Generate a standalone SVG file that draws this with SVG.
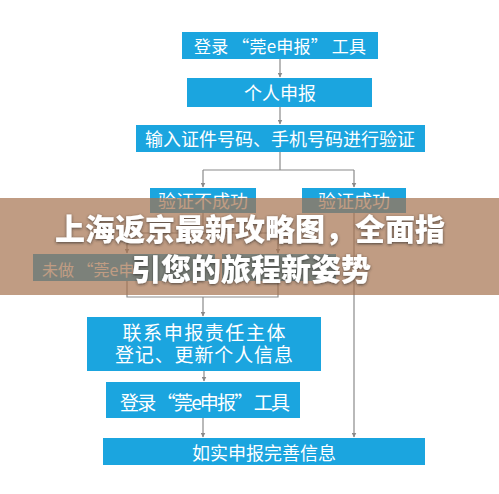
<svg xmlns="http://www.w3.org/2000/svg" width="499" height="494" viewBox="0 0 499 494">
<defs>
<style>
.box{fill:#1ba5df;}
.t{fill:#ffffff;font-family:"Noto Sans CJK SC","Noto Sans",sans-serif;text-anchor:middle;}
.ln{fill:none;stroke:#8a8a8a;stroke-width:1.2;}
.title{fill:#ffffff;font-family:"Noto Sans CJK SC","Noto Sans",sans-serif;font-weight:900;font-size:30px;text-anchor:middle;}
</style>
<marker id="ah" viewBox="0 0 10 10" refX="9" refY="5" markerWidth="5" markerHeight="5" orient="auto" markerUnits="userSpaceOnUse">
<path d="M0,0 L10,5 L0,10 z" fill="#8a8a8a"/>
</marker>
<filter id="sh" x="-10%" y="-30%" width="120%" height="160%">
<feDropShadow dx="0" dy="1" stdDeviation="1.6" flood-color="#2a2a2a" flood-opacity="0.75"/>
</filter>
</defs>
<rect width="499" height="494" fill="#ffffff"/>
<g id="connectors">
<path class="ln" d="M280,59 V77" marker-end="url(#ah)"/>
<path class="ln" d="M280,107 V124" marker-end="url(#ah)"/>
<path class="ln" d="M280,152 V170"/>
<path class="ln" d="M203,170 H354"/>
<path class="ln" d="M203,170 V187" marker-end="url(#ah)"/>
<path class="ln" d="M354,170 V187" marker-end="url(#ah)"/>
<path class="ln" d="M203,213 V233"/>
<path class="ln" d="M127,233 H278"/>
<path class="ln" d="M127,233 V253" marker-end="url(#ah)"/>
<path class="ln" d="M278,233 V253" marker-end="url(#ah)"/>
<path class="ln" d="M127,281 V297 H278 V281"/>
<path class="ln" d="M203,297 V316" marker-end="url(#ah)"/>
<path class="ln" d="M354,213 V437" marker-end="url(#ah)"/>
<path class="ln" d="M204,371 V381" marker-end="url(#ah)"/>
<path class="ln" d="M203,418 V437" marker-end="url(#ah)"/>
</g>
<g id="n1"><rect class="box" x="182" y="32" width="196" height="27"/><text class="t" x="280" y="53" font-size="17" textLength="172" lengthAdjust="spacing">登录 “莞e申报” 工具</text></g>
<g id="n2"><rect class="box" x="187" y="78" width="185" height="29"/><text class="t" x="280" y="100" font-size="18">个人申报</text></g>
<g id="n3"><rect class="box" x="136" y="125" width="289" height="27"/><text class="t" x="280" y="146" font-size="18">输入证件号码、手机号码进行验证</text></g>
<g id="n4"><rect class="box" x="150" y="188" width="106" height="25"/><text class="t" x="203" y="208" font-size="18">验证不成功</text></g>
<g id="n5"><rect class="box" x="302" y="188" width="104" height="25"/><text class="t" x="354" y="208" font-size="18">验证成功</text></g>
<g id="n6"><rect class="box" x="33" y="254" width="182" height="27"/><text class="t" x="42" y="276" font-size="16" style="text-anchor:start">未做 “莞e申</text></g>
<g id="n7"><rect class="box" x="222" y="254" width="114" height="27"/></g>
<g id="n8"><rect class="box" x="87" y="317" width="234" height="54"/><text class="t" x="204" y="340" font-size="19" textLength="163" lengthAdjust="spacing">联系申报责任主体</text><text class="t" x="204" y="362" font-size="19" textLength="178" lengthAdjust="spacing">登记、更新个人信息</text></g>
<g id="n9"><rect class="box" x="106" y="382" width="194" height="36"/><text class="t" x="205" y="410" font-size="19" textLength="170" lengthAdjust="spacing">登录 “莞e申报” 工具</text></g>
<g id="n10"><rect class="box" x="103" y="438" width="322" height="27"/><text class="t" x="264" y="460" font-size="18">如实申报完善信息</text></g>
<rect id="banner" x="0" y="198" width="499" height="97" fill="#a5724f" fill-opacity="0.7"/>
<g id="title" filter="url(#sh)">
<text class="title" x="250" y="240">上海返京最新攻略图，全面指</text>
<text class="title" x="251" y="280">引您的旅程新姿势</text>
</g>
</svg>
